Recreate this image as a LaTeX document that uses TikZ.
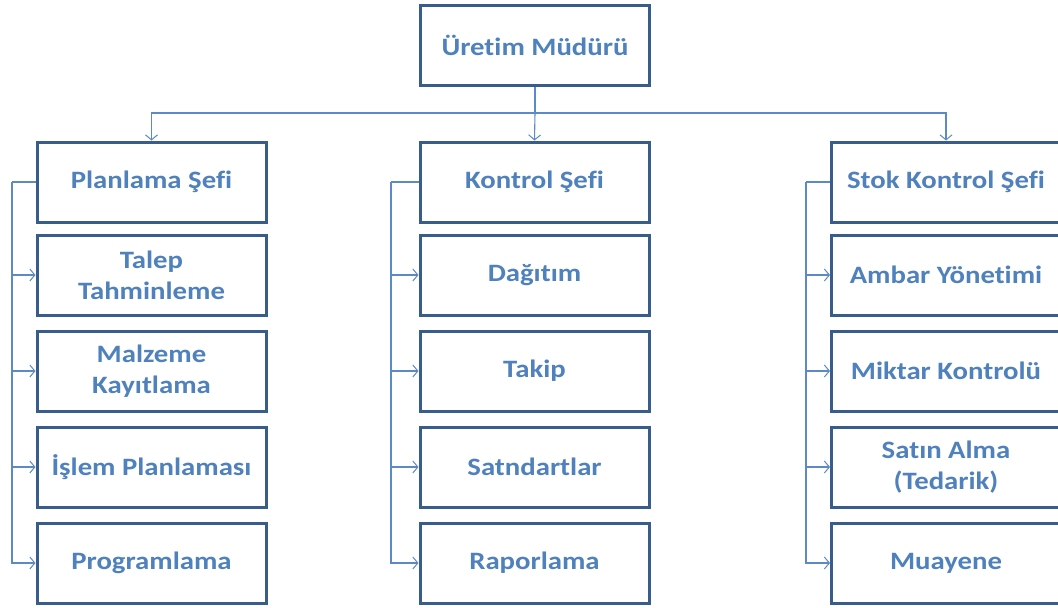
\documentclass[tikz,border=0pt]{standalone}
\usepackage{fontspec}
\setmainfont{Carlito}[FakeStretch=1.15,Ligatures=NoCommon]
\usetikzlibrary{arrows.meta}
\definecolor{txtblue}{HTML}{4F81BD}
\definecolor{boxblue}{HTML}{385D8A}
\definecolor{linkblue}{HTML}{5B8AC6}
\tikzset{
  unit/.style={draw=boxblue, line width=3pt, fill=white, minimum width=229pt,
    minimum height=80pt, inner sep=0pt, align=center, text=txtblue,
    font=\fontsize{25}{31}\selectfont\bfseries},
  link/.style={draw=linkblue, line width=1.1pt},
  arr/.style={link, -{Straight Barb[length=5pt,width=12pt,line width=1pt]}}
}
\begin{document}
\begin{tikzpicture}[x=1pt,y=-1pt]
\useasboundingbox (0,0) rectangle (1058,608);

% head of production
\node[unit] (mgr) at (535,45) {Üretim Müdürü};

% planning column
\node[unit] (plan)  at (151.5,182) {Planlama Şefi};
\node[unit] (p1)    at (151.5,275) {Talep\\Tahminleme};
\node[unit] (p2)    at (151.5,371) {Malzeme\\Kayıtlama};
\node[unit] (p3)    at (151.5,467) {İşlem Planlaması};
\node[unit] (p4)    at (151.5,563) {Programlama};

% control column
\node[unit] (ctrl)  at (534.5,182) {Kontrol Şefi};
\node[unit] (c1)    at (534.5,275) {Dağıtım};
\node[unit] (c2)    at (534.5,371) {Takip};
\node[unit] (c3)    at (534.5,467) {Satndartlar};
\node[unit] (c4)    at (534.5,563) {Raporlama};

% stock control column
\node[unit] (stock) at (946,182) {Stok Kontrol Şefi};
\node[unit] (s1)    at (946,275) {Ambar Yönetimi};
\node[unit] (s2)    at (946,371) {Miktar Kontrolü};
\node[unit] (s3)    at (946,467) {Satın Alma\\(Tedarik)};
\node[unit] (s4)    at (946,563) {Muayene};

% distribution bus below the manager
\coordinate (bus) at (535,113);
\draw[link, line width=1.6pt] (mgr.south) -- (bus);
\draw[arr] (bus) -| (plan.north);
\draw[arr] (bus) -| (stock.north);
\draw[arr] (bus) -- (ctrl.north);

% side spines
\coordinate (lsp) at (12,182);
\coordinate (msp) at (391,182);
\coordinate (rsp) at (806,182);
\draw[link] (plan.west) -- (lsp);
\draw[link] (ctrl.west) -- (msp);
\draw[link] (stock.west) -- (rsp);
\foreach \n in {p1,p2,p3,p4} \draw[arr] (lsp) |- (\n.west);
\foreach \n in {c1,c2,c3,c4} \draw[arr] (msp) |- (\n.west);
\foreach \n in {s1,s2,s3,s4} \draw[arr] (rsp) |- (\n.west);
\end{tikzpicture}
\end{document}
